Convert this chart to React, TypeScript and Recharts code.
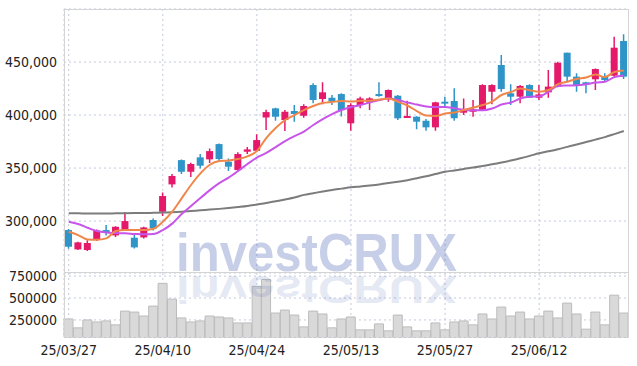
import { ComposedChart, Bar, Line, XAxis, YAxis, CartesianGrid } from "recharts";

const DATES = [
  "25/03/27", "25/03/28", "25/03/31", "25/04/01", "25/04/02", "25/04/03", "25/04/04", "25/04/07", "25/04/08", "25/04/09",
  "25/04/10", "25/04/11", "25/04/14", "25/04/15", "25/04/16", "25/04/17", "25/04/18", "25/04/21", "25/04/22", "25/04/23",
  "25/04/24", "25/04/25", "25/04/28", "25/04/29", "25/04/30", "25/05/02", "25/05/07", "25/05/08", "25/05/09", "25/05/12",
  "25/05/13", "25/05/14", "25/05/15", "25/05/16", "25/05/19", "25/05/20", "25/05/21", "25/05/22", "25/05/23", "25/05/26",
  "25/05/27", "25/05/28", "25/05/29", "25/05/30", "25/06/02", "25/06/04", "25/06/05", "25/06/09", "25/06/10", "25/06/11",
  "25/06/12", "25/06/13", "25/06/16", "25/06/17", "25/06/18", "25/06/19", "25/06/20", "25/06/23", "25/06/24", "25/06/25",
];
const TICK_DATES = ["25/03/27", "25/04/10", "25/04/24", "25/05/13", "25/05/27", "25/06/12"];

const OPEN = [
  291500, 273300, 272700, 282700, 291500, 286500, 291500, 284300, 284600, 301000,
  308800, 334600, 357500, 346500, 360100, 358200, 372600, 356000, 348100, 365400,
  366300, 397700, 406300, 395300, 403800, 399300, 428300, 415100, 416300, 419800,
  392200, 409400, 412000, 419800, 415700, 418200, 397500, 398400, 394600, 388400,
  412600, 413200, 402200, 403100, 404700, 422000, 447200, 420500, 417300, 428300,
  416300, 421400, 426800, 458800, 436200, 430900, 433700, 436200, 437100, 469800,
];
const HIGH = [
  292500, 280500, 282000, 292000, 296200, 295000, 308500, 287500, 294600, 302500,
  327000, 344400, 358100, 355100, 363200, 368500, 373200, 359100, 364800, 369900,
  381800, 405000, 406900, 404700, 409400, 410100, 430000, 430900, 419000, 420500,
  411000, 417300, 416700, 430900, 424200, 418900, 413500, 398900, 396200, 412600,
  417300, 425200, 415700, 414200, 429000, 429000, 456600, 429000, 428300, 429000,
  428300, 442500, 450300, 458800, 439300, 431400, 444000, 439300, 473900, 476100,
];
const LOW = [
  273800, 272700, 271800, 281300, 286500, 285000, 291000, 274200, 283500, 291000,
  304700, 331700, 344400, 341600, 349500, 354700, 356300, 347200, 347500, 363200,
  365300, 385800, 394500, 384900, 393700, 397500, 411000, 410100, 409400, 398600,
  385200, 406300, 404700, 417300, 412600, 395300, 397500, 386500, 385200, 385200,
  407300, 394600, 400000, 398400, 404100, 410100, 422000, 409400, 411000, 416000,
  414200, 416300, 426200, 430900, 422000, 420500, 423600, 431400, 436200, 434000,
];
const CLOSE = [
  275800, 279900, 279300, 290900, 289600, 294600, 300000, 275200, 294000, 293100,
  323600, 342500, 346500, 353800, 352200, 366000, 358500, 351300, 363200, 367600,
  376400, 402800, 398400, 403100, 401000, 408500, 414200, 421400, 412600, 404700,
  409400, 415700, 415700, 418600, 423600, 396900, 399100, 393700, 388400, 412000,
  411000, 397000, 405700, 405400, 428300, 428300, 424500, 417300, 427400, 416300,
  419500, 426800, 449300, 436200, 427400, 429200, 443400, 433000, 463500, 436200,
];
const VOLUME = [
  261000, 160000, 250000, 227000, 239000, 194000, 351000, 340000, 295000, 408000,
  667000, 487000, 273000, 227000, 239000, 295000, 284000, 273000, 216000, 216000,
  633000, 712000, 329000, 363000, 306000, 171000, 351000, 318000, 160000, 261000,
  284000, 137000, 137000, 205000, 126000, 306000, 171000, 126000, 126000, 216000,
  137000, 227000, 239000, 194000, 318000, 261000, 397000, 295000, 340000, 261000,
  295000, 351000, 273000, 442000, 318000, 145000, 340000, 194000, 532000, 329000,
];
const MA5 = [
  289900, 286800, 282700, 282500, 283700, 290600, 291500, 291500, 291500, 292700,
  299300, 308800, 321400, 334000, 345000, 353100, 356600, 357100, 358500, 361000,
  366000, 378300, 387700, 395300, 400000, 404700, 408500, 411300, 412300, 413200,
  412700, 413500, 413500, 414600, 415600, 412500, 409000, 403800, 399500, 399100,
  401400, 402400, 404700, 407100, 409400, 412700, 418900, 421700, 425000, 423300,
  422000, 423600, 429200, 431400, 434000, 435400, 438200, 435800, 440600, 442000,
];
const MA20 = [
  299300, 297200, 293700, 290600, 289200, 288700, 288400, 287900, 287500, 287700,
  291500, 297600, 306600, 314200, 321700, 329200, 335800, 341000, 347200, 353800,
  359900, 364200, 369800, 375500, 380200, 384400, 390600, 396200, 400900, 404700,
  407500, 409400, 411800, 414200, 415600, 414200, 411800, 409900, 408000, 407500,
  407500, 406300, 405000, 404400, 404400, 406100, 409900, 411800, 415600, 417300,
  417600, 422000, 427400, 427800, 428000, 429000, 430700, 431400, 435800, 437300,
];
const MA60 = [
  307300, 307300, 307200, 307200, 307200, 307300, 307400, 307500, 307600, 307800,
  308000, 308400, 308900, 309500, 310200, 310800, 311500, 312300, 313200, 314200,
  315600, 317000, 318700, 320400, 322200, 324700, 326300, 327900, 329400, 330600,
  331800, 332700, 333600, 334600, 335800, 337100, 338600, 340400, 342300, 344400,
  346500, 347800, 349200, 350500, 352000, 353500, 355200, 357100, 359200, 361500,
  363900, 365800, 367800, 370000, 372200, 374500, 376800, 379200, 382000, 384900,
];

const PRICE_TICKS = [300000, 350000, 400000, 450000];
const VOLUME_TICKS = [250000, 500000, 750000];

const UP = "#e5196a";
const DOWN = "#2f95c8";
const GRID = "#c3cadf";
const FONT = "'DejaVu Sans Condensed', 'Liberation Sans Narrow', sans-serif";
const tick = { fontSize: 14, fill: "#222", fontFamily: FONT };

const data = DATES.map((date, i) => ({
  date,
  range: [LOW[i], HIGH[i]],
  open: OPEN[i],
  high: HIGH[i],
  low: LOW[i],
  close: CLOSE[i],
  volume: VOLUME[i],
  ma5: MA5[i],
  ma20: MA20[i],
  ma60: MA60[i],
}));

function Candle(props: any) {
  const { x, y, width, height, payload } = props;
  const { open, close, high, low } = payload;
  const color = close >= open ? UP : DOWN;
  const top = Math.min(y, y + height);
  const h = Math.abs(height);
  const k = high === low ? 0 : h / (high - low);
  const cx = x + width / 2;
  const bodyTop = top + (high - Math.max(open, close)) * k;
  const bodyBot = top + (high - Math.min(open, close)) * k;
  const bw = 7;
  return (
    <g>
      <line x1={cx} x2={cx} y1={top} y2={top + h} stroke={color} strokeWidth={1.5} />
      <rect x={cx - bw / 2} y={bodyTop} width={bw} height={Math.max(bodyBot - bodyTop, 2)} fill={color} />
    </g>
  );
}

export default function App() {
  return (
    <div style={{ position: "relative", width: 637, height: 366, background: "#fff" }}>
      <style>{"body{margin:0}"}</style>
      <div style={{ position: "absolute", left: 0, top: 0 }}>
        <ComposedChart width={637} height={272.5} data={data} margin={{ top: 9, right: 8.5, left: 0, bottom: 0 }} barCategoryGap={1}>
          <CartesianGrid stroke={GRID} strokeDasharray="2 3" />
          <XAxis dataKey="date" hide ticks={TICK_DATES} interval={0} />
          <YAxis
            domain={[251500, 500000]}
            ticks={PRICE_TICKS}
            interval={0}
            width={64}
            tickLine={false}
            axisLine={false}
            tickMargin={1}
            tick={tick}
            tickFormatter={(v) => v.toLocaleString("en-US")}
            allowDataOverflow
          />
          <Bar dataKey="range" shape={<Candle />} isAnimationActive={false} />
          <Line dataKey="ma60" stroke="#7c7c7c" strokeWidth={2} dot={false} type="monotone" isAnimationActive={false} />
          <Line dataKey="ma20" stroke="#c855ea" strokeWidth={2} dot={false} type="monotone" isAnimationActive={false} />
          <Line dataKey="ma5" stroke="#f0874a" strokeWidth={2} dot={false} type="monotone" isAnimationActive={false} />
        </ComposedChart>
      </div>
      <div style={{ position: "absolute", left: 0, top: 262.5 }}>
        <ComposedChart width={637} height={103.5} data={data} margin={{ top: 10, right: 8.5, left: 0, bottom: 0 }} barCategoryGap={0}>
          <CartesianGrid stroke={GRID} strokeDasharray="2 3" />
          <XAxis dataKey="date" ticks={TICK_DATES} interval={0} tickLine={false} axisLine={false} height={29} tick={tick} />
          <YAxis
            domain={[50000, 785000]}
            ticks={VOLUME_TICKS}
            interval={0}
            width={64}
            tickLine={false}
            axisLine={false}
            tickMargin={1}
            tick={tick}
            allowDataOverflow
          />
          <Bar dataKey="volume" fill="#d9d9d9" stroke="#bcbcbc" strokeWidth={1} isAnimationActive={false} />
        </ComposedChart>
      </div>
      <div style={{ position: "absolute", left: 64, top: 9, width: 564.5, height: 263.5, border: "1px solid #d4d4d4", boxSizing: "border-box", pointerEvents: "none" }} />
      <div style={{ position: "absolute", left: 64, top: 272, width: 564.5, height: 65.5, borderLeft: "1px solid #d4d4d4", borderRight: "1px solid #d4d4d4", boxSizing: "border-box", pointerEvents: "none" }} />
      <svg width={637} height={366} style={{ position: "absolute", left: 0, top: 0, pointerEvents: "none" }}>
        <text x={176} y={271} textLength={281} lengthAdjust="spacingAndGlyphs" fontSize={54} fontWeight="bold" fontFamily="'Liberation Sans', Arial, sans-serif" fill="#3050a8" opacity={0.27}>
          investCRUX
        </text>
        <g transform="translate(0 274) scale(1 -0.72) translate(0 -274)">
          <text x={176} y={271} textLength={281} lengthAdjust="spacingAndGlyphs" fontSize={54} fontWeight="bold" fontFamily="'Liberation Sans', Arial, sans-serif" fill="#3050a8" opacity={0.12}>
            investCRUX
          </text>
        </g>
      </svg>
    </div>
  );
}
